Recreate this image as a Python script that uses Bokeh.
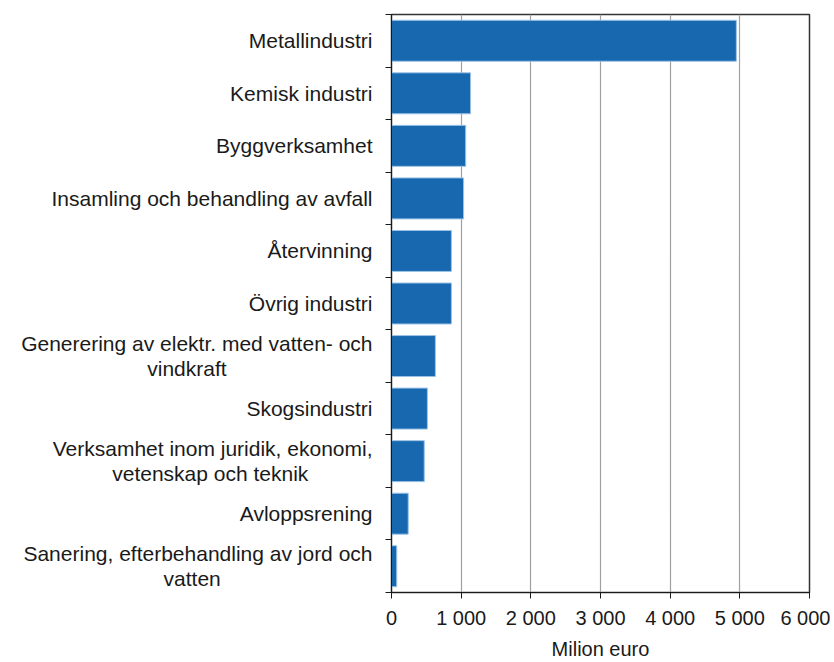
from bokeh.plotting import figure
from bokeh.models import FixedTicker, Range1d
from bokeh.embed import file_html
from bokeh.resources import INLINE

NB = "\u00a0"
categories = [
    "Metallindustri",
    "Kemisk industri",
    "Byggverksamhet",
    "Insamling och behandling av avfall",
    "Återvinning",
    "Övrig industri",
    "Generering av elektr. med vatten- och\nvindkraft" + NB * 25,
    "Skogsindustri",
    "Verksamhet inom juridik, ekonomi,\nvetenskap och teknik" + NB * 11,
    "Avloppsrening",
    "Sanering, efterbehandling av jord och\nvatten" + NB * 26,
]
values = [4950, 1135, 1065, 1035, 860, 860, 630, 515, 470, 240, 75]
x_ticks = [0, 1000, 2000, 3000, 4000, 5000, 6000]
x_tick_labels = ["0", "1 000", "2 000", "3 000", "4 000", "5 000", "6 000"]
x_label = "Milion euro"

n = len(categories)
ypos = [n - i for i in range(n)]
bounds = [k + 0.5 for k in range(n + 1)]

p = figure(width=830, height=662, output_backend="svg", toolbar_location=None,
           x_range=Range1d(0, 6000), y_range=Range1d(0.5, n + 0.5),
           min_border_left=391, min_border_top=14, min_border_right=21, min_border_bottom=66)

p.hbar(y=ypos, right=values, left=0, height=0.78, fill_color="#1868b0",
       line_color="#9cc3e6", line_width=1)

FONT = "Liberation Sans"
TXT = "#1a1a1a"
p.xaxis.ticker = FixedTicker(ticks=x_ticks)
p.xaxis.major_label_overrides = {t: l for t, l in zip(x_ticks, x_tick_labels)}
p.xaxis.axis_label = x_label
p.xaxis.axis_label_text_font = FONT
p.xaxis.axis_label_text_font_style = "normal"
p.xaxis.axis_label_text_font_size = "20px"
p.xaxis.axis_label_text_color = TXT
p.xaxis.axis_label_standoff = 6
p.xaxis.major_label_text_font = FONT
p.xaxis.major_label_text_font_size = "20px"
p.xaxis.major_label_text_color = TXT
p.xaxis.major_label_standoff = 8
p.xaxis.major_tick_out = 6
p.xaxis.major_tick_in = 0
p.xaxis.minor_tick_out = 0
p.xaxis.axis_line_color = TXT
p.xaxis.major_tick_line_color = TXT

p.yaxis.ticker = FixedTicker(ticks=ypos, minor_ticks=bounds)
p.yaxis.major_label_overrides = {y: c for y, c in zip(ypos, categories)}
p.yaxis.major_label_text_font = FONT
p.yaxis.major_label_text_font_size = "21px"
p.yaxis.major_label_text_line_height = 1.1
p.yaxis.major_label_text_color = TXT
p.yaxis.major_tick_out = 0
p.yaxis.major_tick_in = 0
p.yaxis.minor_tick_out = 6
p.yaxis.minor_tick_in = 0
p.yaxis.minor_tick_line_color = TXT
p.yaxis.axis_line_color = TXT
p.yaxis.major_label_standoff = 13

p.xgrid.grid_line_color = "#a0a0a0"
p.xgrid.grid_line_width = 1.2
p.ygrid.grid_line_color = None
p.outline_line_color = "#333333"
p.outline_line_width = 1.5

open("out.html", "w").write(file_html(p, INLINE))
